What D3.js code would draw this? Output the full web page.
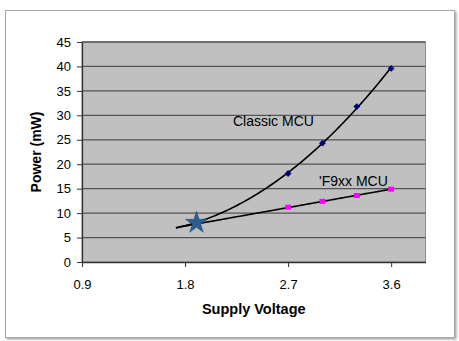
<!DOCTYPE html>
<html><head><meta charset="utf-8">
<script src="https://cdn.jsdelivr.net/npm/d3@7"></script>
<style>
html,body{margin:0;padding:0;background:#fff;}
svg{display:block;font-family:Arial,"Liberation Sans",sans-serif;}
</style></head>
<body>
<script>
// ---- data ----
const voltages = [2.7, 3.0, 3.3, 3.6];
const classicPower = [18.1, 24.3, 31.8, 39.6];
const f9xxPower = [11.2, 12.4, 13.6, 14.9];
const trendStart = [1.72, 7.0];        // where both trend lines begin
const starPoint = [1.9, 8.0];          // crossover marker
const xTicks = [0.9, 1.8, 2.7, 3.6];
const yTicks = [0, 5, 10, 15, 20, 25, 30, 35, 40, 45];
const seriesLabels = ["Classic MCU", "'F9xx MCU"];
const xTitle = "Supply Voltage";
const yTitle = "Power (mW)";

const W = 459, H = 341;
const m = {left: 82, right: 425.5, top: 42, bottom: 262};

const svg = d3.select("body").append("svg").attr("width", W).attr("height", H);

const defs = svg.append("defs");
const f = defs.append("filter").attr("id","sh").attr("x","-5%").attr("y","-5%").attr("width","110%").attr("height","110%");
f.append("feDropShadow").attr("dx",1.5).attr("dy",1.5).attr("stdDeviation",1).attr("flood-color","#000").attr("flood-opacity",0.35);

// frame
svg.append("rect").attr("x",5.5).attr("y",10.5).attr("width",449).attr("height",327)
  .attr("fill","#fff").attr("stroke","#a6a6a6").attr("stroke-width",1).attr("filter","url(#sh)");

const x = d3.scaleLinear().domain([0.9, 3.9]).range([m.left, m.right]);
const y = d3.scaleLinear().domain([0, 45]).range([m.bottom, m.top]);

// plot background
svg.append("rect").attr("x",m.left).attr("y",m.top).attr("width",m.right-m.left).attr("height",m.bottom-m.top)
  .attr("fill","#c0c0c0").attr("stroke","#8c8c8c").attr("stroke-width",1);

// gridlines
svg.append("g").selectAll("line").data(yTicks.filter(d=>d>0)).join("line")
  .attr("x1",m.left).attr("x2",m.right).attr("y1",d=>y(d)).attr("y2",d=>y(d))
  .attr("stroke","#555").attr("stroke-width",1.3);

// axes
const yAxis = svg.append("g").attr("transform",`translate(${m.left},0)`)
  .call(d3.axisLeft(y).tickValues(yTicks).tickSize(5).tickPadding(6).tickSizeOuter(0));
const xAxis = svg.append("g").attr("transform",`translate(0,${m.bottom})`)
  .call(d3.axisBottom(x).tickValues(xTicks).tickFormat(d3.format(".1f")).tickSize(5).tickPadding(13).tickSizeOuter(0));
[yAxis, xAxis].forEach(g=>{
  g.select(".domain").attr("stroke","#333").attr("stroke-width",1.3);
  g.selectAll(".tick line").attr("stroke","#333");
  g.selectAll("text").attr("font-size",13).attr("fill","#000").attr("font-family","Arial, 'Liberation Sans', sans-serif");
});

// least-squares polynomial fit (trend lines)
function polyfit(xs, ys, deg){
  const n = deg+1;
  const A = Array.from({length:n},()=>Array(n+1).fill(0));
  xs.forEach((xv,i)=>{
    for(let r=0;r<n;r++){
      for(let c=0;c<n;c++) A[r][c]+=Math.pow(xv,r+c);
      A[r][n]+=ys[i]*Math.pow(xv,r);
    }
  });
  for(let i=0;i<n;i++){
    let p=i; for(let k=i+1;k<n;k++) if(Math.abs(A[k][i])>Math.abs(A[p][i])) p=k;
    [A[i],A[p]]=[A[p],A[i]];
    for(let k=0;k<n;k++){ if(k===i) continue; const fct=A[k][i]/A[i][i]; for(let c=i;c<=n;c++) A[k][c]-=fct*A[i][c]; }
  }
  return A.map((r,i)=>r[n]/r[i]);
}
const evalPoly=(co,xv)=>co.reduce((s,c,i)=>s+c*Math.pow(xv,i),0);

const xsAll = [trendStart[0], ...voltages];
const cCo = polyfit(xsAll, [trendStart[1], ...classicPower], 2);
const fCo = polyfit(xsAll, [trendStart[1], ...f9xxPower], 1);
const xs = d3.range(trendStart[0], 3.6001, 0.02);
const line = d3.line().x(d=>x(d[0])).y(d=>y(d[1])).curve(d3.curveLinear);

svg.append("path").attr("d", line(xs.map(v=>[v, evalPoly(cCo,v)])))
  .attr("fill","none").attr("stroke","#000").attr("stroke-width",1.6);
svg.append("path").attr("d", line(xs.map(v=>[v, evalPoly(fCo,v)])))
  .attr("fill","none").attr("stroke","#000").attr("stroke-width",1.6);

// markers
svg.append("g").selectAll("rect").data(voltages.map((v,i)=>[v,classicPower[i]])).join("rect")
  .attr("x",-2.4).attr("y",-2.4).attr("width",4.8).attr("height",4.8)
  .attr("transform", d=>`translate(${x(d[0])},${y(d[1])}) rotate(45)`)
  .attr("fill","#000080");
svg.append("g").selectAll("rect").data(voltages.map((v,i)=>[v,f9xxPower[i]])).join("rect")
  .attr("x", d=>x(d[0])-3).attr("y", d=>y(d[1])-2.5).attr("width",6).attr("height",5)
  .attr("fill","#ff00ff");

// star
svg.append("path").attr("d", d3.symbol(d3.symbolStar, 150))
  .attr("transform", `translate(${x(starPoint[0])},${y(starPoint[1])})`)
  .attr("fill","#2b5d8f").attr("stroke","#1f4a75").attr("stroke-width",0.5);

// series labels
svg.append("text").attr("x",233).attr("y",125.5).attr("font-size",14).text(seriesLabels[0]);
svg.append("text").attr("x",319).attr("y",185.5).attr("font-size",14).text(seriesLabels[1]);

// titles
svg.append("text").attr("x",(m.left+m.right)/2).attr("y",314).attr("text-anchor","middle")
  .attr("font-size",14.5).attr("font-weight","bold").text(xTitle);
svg.append("text").attr("transform",`translate(41,${(m.top+m.bottom)/2}) rotate(-90)`)
  .attr("text-anchor","middle").attr("font-size",14).attr("font-weight","bold").text(yTitle);
</script>
</body></html>
